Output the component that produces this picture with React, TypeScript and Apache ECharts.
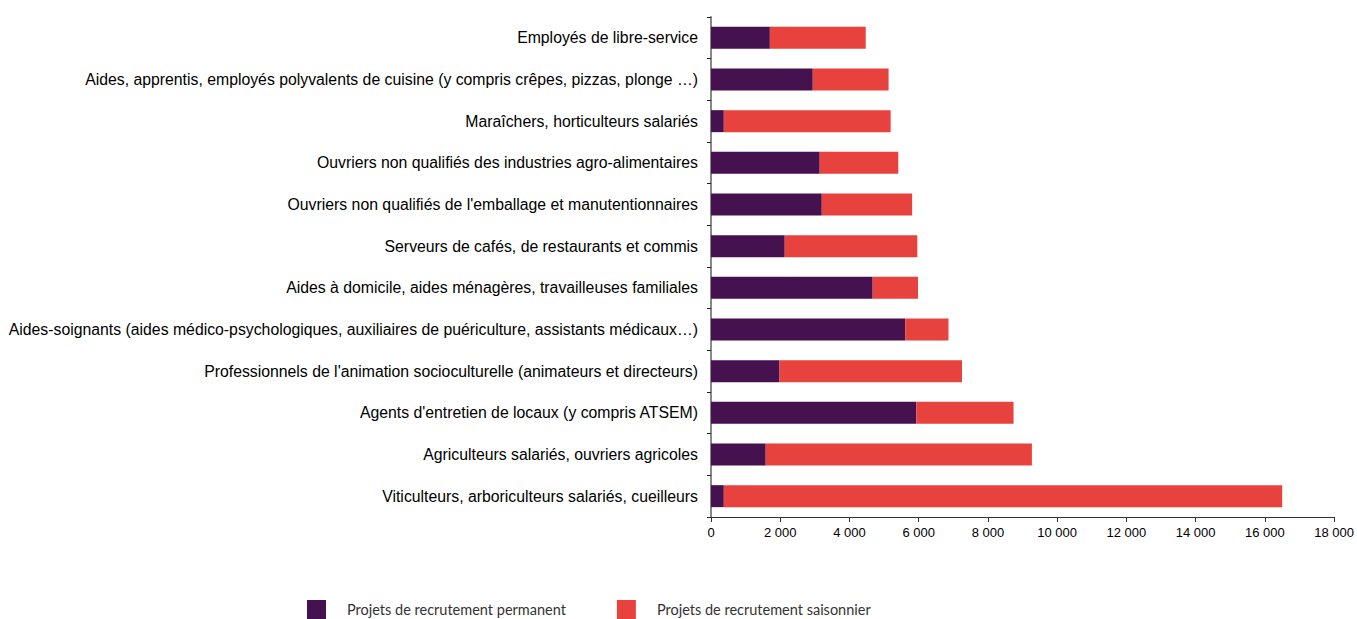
import React, { useEffect, useRef } from "react";
import * as echarts from "echarts";

const categories = [
  "Employés de libre-service",
  "Aides, apprentis, employés polyvalents de cuisine (y compris crêpes, pizzas, plonge …)",
  "Maraîchers, horticulteurs salariés",
  "Ouvriers non qualifiés des industries agro-alimentaires",
  "Ouvriers non qualifiés de l'emballage et manutentionnaires",
  "Serveurs de cafés, de restaurants et commis",
  "Aides à domicile, aides ménagères, travailleuses familiales",
  "Aides-soignants (aides médico-psychologiques, auxiliaires de puériculture, assistants médicaux…)",
  "Professionnels de l'animation socioculturelle (animateurs et directeurs)",
  "Agents d'entretien de locaux (y compris ATSEM)",
  "Agriculteurs salariés, ouvriers agricoles",
  "Viticulteurs, arboriculteurs salariés, cueilleurs",
];

const permanent = [1700, 2940, 370, 3140, 3200, 2130, 4670, 5610, 1980, 5930, 1580, 370];
const saisonnier = [2770, 2190, 4820, 2270, 2610, 3830, 1310, 1250, 5270, 2810, 7690, 16130];

const seriesNames = ["Projets de recrutement permanent", "Projets de recrutement saisonnier"];
const colors = ["#45114f", "#e8423e"];

const fmt = (v: number) => {
  const s = String(Math.round(v));
  return s.replace(/\B(?=(\d{3})+(?!\d))/g, " ");
};

export default function App() {
  const ref = useRef<HTMLDivElement>(null);
  useEffect(() => {
    if (!ref.current) return;
    const chart = echarts.init(ref.current, null, { renderer: "svg" });
    chart.setOption({
      animation: false,
      grid: { left: 711, right: 22, top: 17, bottom: 102, containLabel: false },
      legend: {
        top: 600,
        left: 307,
        padding: 0,
        itemWidth: 19,
        itemHeight: 19,
        itemGap: 51,
        icon: "rect",
        textStyle: { fontFamily: "Lato", fontSize: 14.5, color: "#333", padding: [2, 0, 0, 16] },
        data: seriesNames,
      },
      xAxis: {
        type: "value",
        min: 0,
        max: 18000,
        interval: 2000,
        splitLine: { show: false },
        axisLine: { show: true, lineStyle: { color: "#333", width: 1 } },
        axisTick: { show: true, length: 5, lineStyle: { color: "#333" } },
        axisLabel: {
          formatter: (v: number) => fmt(v),
          fontFamily: "Liberation Sans",
          fontSize: 13,
          color: "#000",
          margin: 9,
        },
      },
      yAxis: {
        type: "category",
        inverse: true,
        data: categories,
        axisLine: { show: true, lineStyle: { color: "#888", width: 2 } },
        axisTick: { show: true, length: 4, lineStyle: { color: "#222" } },
        axisLabel: {
          fontFamily: "Liberation Sans",
          fontSize: 15.8,
          color: "#000",
          margin: 13,
        },
      },
      series: [
        {
          name: seriesNames[0],
          type: "bar",
          stack: "total",
          data: permanent,
          barWidth: 22,
          itemStyle: { color: colors[0] },
        },
        {
          name: seriesNames[1],
          type: "bar",
          stack: "total",
          data: saisonnier,
          barWidth: 22,
          itemStyle: { color: colors[1] },
        },
      ],
    });
    return () => chart.dispose();
  }, []);
  return <div ref={ref} style={{ width: 1357, height: 619, position: "absolute", left: 0, top: 0 }} />;
}
